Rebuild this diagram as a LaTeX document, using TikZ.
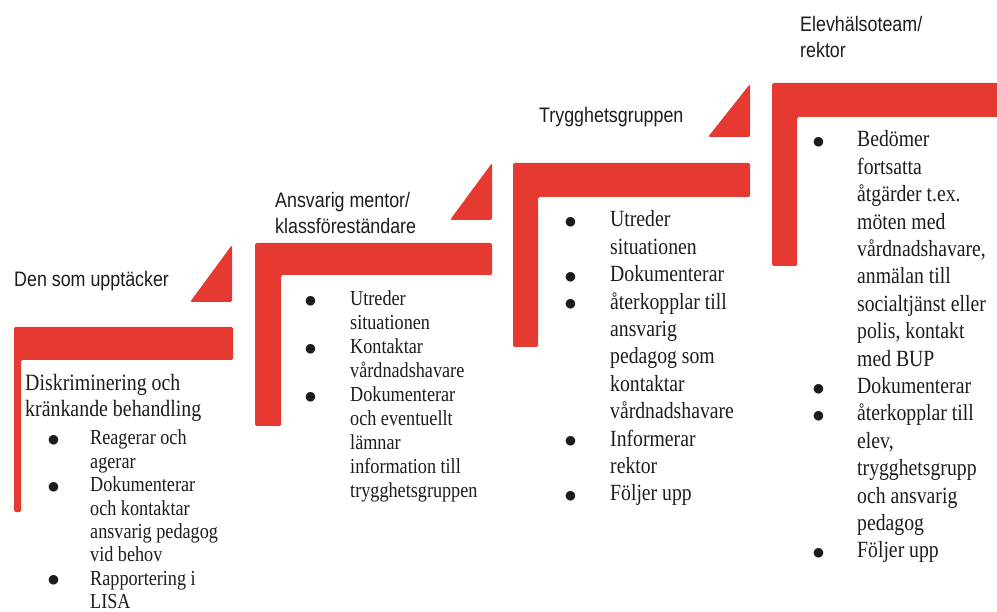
\documentclass[tikz,border=0pt]{standalone}
\usepackage{fontspec}
\setmainfont{Liberation Serif}[FakeStretch=0.85]
\newfontfamily\labelfont{Liberation Sans}[FakeStretch=0.85]
\newfontfamily\dotfont{DejaVu Sans}
\usetikzlibrary{positioning}

\definecolor{stepred}{RGB}{229,57,50}
\definecolor{inkgray}{RGB}{28,28,28}

\newcommand{\itemdot}{\raisebox{1.5pt}{\dotfont\fontsize{12.5}{12.5}\selectfont ●}}

\begin{document}
\begin{tikzpicture}[
    x=1pt, y=-1pt,
    stepbar/.style={fill=stepred, rounded corners=1.5pt},
    stepcorner/.style={fill=stepred, rounded corners=1.5pt},
    rolelabel/.style={inner sep=0pt, anchor=base west, text=inkgray,
        font=\labelfont\fontsize{21}{25.5}\selectfont},
    tasklist/.style={inner sep=0pt, anchor=base west, text=inkgray,
        font=\fontsize{21.4}{23.9}\selectfont},
    tasklistbig/.style={tasklist, font=\fontsize{23.2}{27.4}\selectfont},
]

\clip (0,0) rectangle (997,612);

% ========== STAIRS ==========
\fill[stepbar] (14,327) -- (233,327) -- (233,360) -- (21,360) -- (21,512) -- (14,512) -- cycle;
\fill[stepcorner] (190,302) -- (232,302) -- (232,245) -- cycle;

\fill[stepbar] (255,243) -- (492,243) -- (492,275) -- (281,275) -- (281,426) -- (255,426) -- cycle;
\fill[stepcorner] (450,220) -- (492,220) -- (492,163) -- cycle;

\fill[stepbar] (513,163) -- (750,163) -- (750,197) -- (538,197) -- (538,347) -- (513,347) -- cycle;
\fill[stepcorner] (708,137) -- (750,137) -- (750,84) -- cycle;

\fill[stepbar] (772,83) -- (1005,83) -- (1005,117) -- (797,117) -- (797,266) -- (772,266) -- cycle;

% ========== ROLES ==========
\node[rolelabel] (role_finder) at (14,287) {Den som upptäcker};
\node[rolelabel] (role_mentor) at (275,208) {\begin{tabular}[t]{@{}l@{}}Ansvarig mentor/\\klassföreständare\end{tabular}};
\node[rolelabel] (role_safety) at (539,123) {Trygghetsgruppen};
\node[rolelabel] (role_ehteam) at (800,32) {\begin{tabular}[t]{@{}l@{}}Elevhälsoteam/\\rektor\end{tabular}};

% ========== TASKS ==========
\node[tasklist, font=\fontsize{23.4}{26}\selectfont] (heading_case) at (25,391)
    {\begin{tabular}[t]{@{}l@{}}Diskriminering och\\kränkande behandling\end{tabular}};

\node[tasklist, font=\fontsize{21.4}{23.4}\selectfont] (tasks_finder) at (48,445) {\begin{tabular}[t]{@{}p{42pt}@{}l@{}}
    \itemdot & Reagerar och\\
             & agerar\\
    \itemdot & Dokumenterar\\
             & och kontaktar\\
             & ansvarig pedagog\\
             & vid behov\\
    \itemdot & Rapportering i\\
             & LISA
\end{tabular}};

\node[tasklist] (tasks_mentor) at (305,306) {\begin{tabular}[t]{@{}p{45pt}@{}l@{}}
    \itemdot & Utreder\\
             & situationen\\
    \itemdot & Kontaktar\\
             & vårdnadshavare\\
    \itemdot & Dokumenterar\\
             & och eventuellt\\
             & lämnar\\
             & information till\\
             & trygghetsgruppen
\end{tabular}};

\node[tasklistbig] (tasks_safety) at (565,227) {\begin{tabular}[t]{@{}p{45pt}@{}l@{}}
    \itemdot & Utreder\\
             & situationen\\
    \itemdot & Dokumenterar\\
    \itemdot & återkopplar till\\
             & ansvarig\\
             & pedagog som\\
             & kontaktar\\
             & vårdnadshavare\\
    \itemdot & Informerar\\
             & rektor\\
    \itemdot & Följer upp
\end{tabular}};

\node[tasklistbig] (tasks_ehteam) at (813,147) {\begin{tabular}[t]{@{}p{44pt}@{}l@{}}
    \itemdot & Bedömer\\
             & fortsatta\\
             & åtgärder t.ex.\\
             & möten med\\
             & vårdnadshavare,\\
             & anmälan till\\
             & socialtjänst eller\\
             & polis, kontakt\\
             & med BUP\\
    \itemdot & Dokumenterar\\
    \itemdot & återkopplar till\\
             & elev,\\
             & trygghetsgrupp\\
             & och ansvarig\\
             & pedagog\\
    \itemdot & Följer upp
\end{tabular}};

\end{tikzpicture}
\end{document}
